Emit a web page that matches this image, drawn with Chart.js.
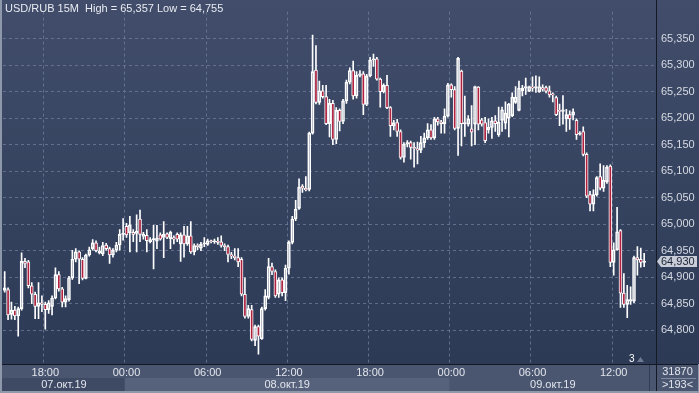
<!DOCTYPE html>
<html><head><meta charset="utf-8">
<script src="https://cdn.jsdelivr.net/npm/chart.js@4.4.1/dist/chart.umd.min.js"></script>
<style>html,body{margin:0;padding:0;background:#2f3c58;overflow:hidden}#wrap{width:699px;height:393px}</style>
</head><body><div id="wrap"><canvas id="c" width="699" height="393"></canvas></div>
<script>
// ---- data (USD/RUB, 15 min bars from 07.10.2019 15:00) ----
const firstBarMinutes = 15 * 60;          // 15:00 on 07 Oct
const slotCount = 193;                    // bars visible in window (>193<)
const dayNames = ['07.окт.19', '08.окт.19', '09.окт.19'];
const timeTickLabels = ['00:00', '06:00', '12:00', '18:00'];
const yTickValues = [64.80, 64.85, 64.90, 64.95, 65.00, 65.05, 65.10, 65.15, 65.20, 65.25, 65.30, 65.35];
const lastPrice = 64.930;
const titleText = 'USD/RUB 15M  High = 65,357 Low = 64,755';
const volumeText = '31870';
const barsText = '>193<';

const opens = [64.875,64.877,64.830,64.838,64.827,64.841,64.930,64.929,64.884,64.868,64.845,64.852,64.849,64.839,64.845,64.861,64.905,64.878,64.853,64.858,
64.899,64.934,64.948,64.934,64.898,64.942,64.954,64.965,64.946,64.944,64.961,64.954,64.942,64.951,64.961,64.981,64.996,64.984,64.985,64.983,
65.010,64.977,64.979,64.967,64.971,64.968,64.980,64.975,64.982,64.973,64.975,64.981,64.963,64.980,64.963,64.978,64.948,64.960,64.955,64.963,
64.962,64.968,64.967,64.968,64.967,64.960,64.958,64.943,64.940,64.937,64.934,64.868,64.826,64.839,64.781,64.807,64.784,64.841,64.862,64.920,
64.911,64.868,64.895,64.871,64.917,64.966,65.010,65.030,65.072,65.068,65.066,65.172,65.291,65.230,65.252,65.241,65.190,65.228,65.160,65.215,
65.194,65.233,65.268,65.290,65.242,65.281,65.284,65.226,65.280,65.310,65.312,65.274,65.250,65.262,65.220,65.186,65.192,65.175,65.126,65.151,
65.154,65.145,65.143,65.140,65.154,65.163,65.178,65.163,65.199,65.193,65.190,65.204,65.263,65.254,65.181,65.289,65.190,65.189,65.180,65.189,
65.259,65.197,65.192,65.178,65.183,65.195,65.169,65.196,65.191,65.200,65.205,65.230,65.215,65.252,65.257,65.251,65.259,65.257,65.250,65.258,
65.258,65.252,65.246,65.239,65.215,65.213,65.199,65.207,65.206,65.196,65.170,65.175,65.132,65.056,65.038,65.056,65.090,65.068,65.080,65.110,
64.928,64.952,64.988,64.870,64.849,64.855,64.855,64.937,64.934,64.928];
const highs = [64.911,64.880,64.853,64.845,64.844,64.946,64.936,64.932,64.890,64.872,64.890,64.865,64.853,64.856,64.865,64.918,64.911,64.881,64.865,64.902,
64.951,64.954,64.950,64.937,64.944,64.957,64.971,64.969,64.957,64.966,64.964,64.957,64.954,64.966,64.990,65.011,65.002,65.015,64.990,65.018,
65.027,64.985,64.990,64.975,64.998,64.998,64.984,65.005,64.984,64.987,64.978,64.984,64.984,64.996,64.996,65.005,64.963,64.963,64.966,64.975,
64.972,64.970,64.972,64.975,64.978,64.963,64.961,64.947,64.954,64.954,64.937,64.899,64.847,64.847,64.810,64.810,64.844,64.877,64.936,64.927,
64.914,64.899,64.899,64.923,64.969,65.015,65.045,65.086,65.075,65.090,65.174,65.357,65.337,65.270,65.262,65.262,65.236,65.234,65.220,65.218,
65.236,65.272,65.295,65.308,65.288,65.290,65.288,65.283,65.315,65.321,65.315,65.276,65.265,65.281,65.222,65.196,65.198,65.178,65.154,65.158,
65.157,65.154,65.155,65.166,65.172,65.190,65.188,65.202,65.202,65.196,65.218,65.266,65.265,65.260,65.315,65.291,65.242,65.205,65.224,65.261,
65.260,65.200,65.202,65.199,65.202,65.205,65.221,65.221,65.231,65.228,65.248,65.260,65.270,65.262,65.276,65.261,65.278,65.280,65.278,65.263,
65.261,65.261,65.248,65.242,65.227,65.243,65.217,65.214,65.218,65.199,65.175,65.184,65.135,65.062,65.065,65.090,65.114,65.111,65.111,65.112,
64.965,65.032,64.990,64.907,64.885,64.882,64.940,64.958,64.955,64.945];
const lows = [64.872,64.820,64.821,64.820,64.789,64.838,64.918,64.880,64.850,64.822,64.822,64.835,64.802,64.832,64.829,64.859,64.874,64.844,64.844,64.855,
64.896,64.929,64.888,64.895,64.897,64.940,64.951,64.948,64.944,64.941,64.951,64.926,64.938,64.948,64.951,64.970,64.975,64.948,64.967,64.948,
64.967,64.972,64.948,64.965,64.916,64.954,64.970,64.937,64.973,64.954,64.963,64.967,64.930,64.938,64.960,64.945,64.942,64.952,64.950,64.958,
64.960,64.965,64.964,64.962,64.957,64.950,64.929,64.935,64.933,64.920,64.865,64.823,64.823,64.780,64.771,64.755,64.783,64.838,64.859,64.905,
64.862,64.862,64.865,64.856,64.906,64.963,65.007,65.028,65.060,65.063,65.063,65.170,65.227,65.226,65.238,65.188,65.165,65.150,65.152,65.176,
65.190,65.228,65.265,65.236,65.238,65.278,65.207,65.224,65.278,65.298,65.272,65.221,65.248,65.218,65.166,65.178,65.166,65.123,65.117,65.146,
65.123,65.108,65.114,65.135,65.145,65.160,65.160,65.160,65.187,65.172,65.172,65.202,65.240,65.178,65.130,65.148,65.166,65.185,65.148,65.150,
65.178,65.185,65.154,65.172,65.162,65.175,65.166,65.175,65.180,65.165,65.203,65.228,65.214,65.242,65.245,65.250,65.251,65.249,65.249,65.251,
65.248,65.240,65.231,65.205,65.186,65.189,65.175,65.179,65.197,65.160,65.168,65.129,65.050,65.025,65.025,65.053,65.065,65.062,65.077,64.920,
64.904,64.951,64.843,64.843,64.824,64.849,64.852,64.904,64.919,64.920];
const closes = [64.880,64.829,64.838,64.827,64.841,64.930,64.926,64.884,64.868,64.845,64.852,64.849,64.839,64.852,64.861,64.905,64.878,64.853,64.860,64.899,
64.934,64.948,64.934,64.898,64.942,64.952,64.965,64.950,64.950,64.960,64.954,64.942,64.951,64.961,64.981,64.983,64.980,64.999,64.981,64.987,
64.981,64.981,64.969,64.971,64.972,64.974,64.972,64.981,64.975,64.985,64.972,64.972,64.980,64.963,64.978,64.948,64.960,64.958,64.962,64.965,
64.969,64.967,64.969,64.966,64.960,64.958,64.943,64.940,64.937,64.929,64.868,64.826,64.841,64.783,64.807,64.789,64.841,64.865,64.920,64.911,
64.865,64.895,64.871,64.917,64.966,65.010,65.028,65.070,65.068,65.065,65.172,65.288,65.230,65.252,65.241,65.190,65.228,65.160,65.215,65.194,
65.233,65.268,65.290,65.242,65.281,65.284,65.226,65.280,65.310,65.312,65.274,65.250,65.262,65.220,65.186,65.192,65.175,65.126,65.151,65.154,
65.145,65.143,65.140,65.154,65.163,65.178,65.163,65.199,65.193,65.190,65.204,65.263,65.254,65.181,65.313,65.190,65.192,65.199,65.174,65.260,
65.189,65.189,65.158,65.183,65.195,65.190,65.193,65.216,65.210,65.227,65.240,65.240,65.257,65.257,65.260,65.260,65.257,65.260,65.260,65.255,
65.251,65.244,65.244,65.207,65.213,65.216,65.207,65.199,65.212,65.169,65.172,65.132,65.053,65.038,65.056,65.088,65.068,65.083,65.108,64.928,
64.952,64.986,64.870,64.849,64.858,64.858,64.937,64.933,64.928,64.930];

// ---- categories: 15-minute slots ----
const categories = [];
const slotDay = [];
for (let i = 0; i < slotCount; i++) {
  const m = firstBarMinutes + i * 15;
  const mm = m % 1440;
  slotDay.push(Math.floor(m / 1440));
  categories.push(String(Math.floor(mm / 60)).padStart(2, '0') + ':' + String(mm % 60).padStart(2, '0'));
}
const isMajor = i => i < slotCount && timeTickLabels.includes(categories[i]);

const bodies = opens.map((o, i) => [o, closes[i]]);
const upperWicks = opens.map((o, i) => [Math.max(o, closes[i]), highs[i]]);
const lowerWicks = opens.map((o, i) => [lows[i], Math.min(o, closes[i])]);
const bodyFill = opens.map((o, i) => closes[i] < o ? '#b0213f' : 'rgba(0,0,0,0)');

const FONT = "'Liberation Sans Narrow','Arial Narrow','Liberation Sans',Arial,sans-serif";
const GRID = 'rgba(112,126,156,0.75)';

const decor = {
  id: 'decor',
  beforeDraw(chart) {
    const c = chart.ctx, W = chart.width, H = chart.height;
    const xa = chart.scales.x, ca = chart.chartArea;
    c.save();
    const g = c.createLinearGradient(0, 0, 0, ca.bottom);
    g.addColorStop(0, '#414d6a');
    g.addColorStop(1, '#2c3a56');
    c.fillStyle = g;
    c.fillRect(0, 0, W, ca.bottom);
    // bottom panel
    c.fillStyle = '#4a5670';
    c.fillRect(0, ca.bottom, W, H - ca.bottom);
    // day bands (lower row)
    const slotW = xa.width / slotCount;
    const edge = i => xa.left + i * slotW;
    const starts = [0];
    for (let i = 1; i < slotCount; i++) if (slotDay[i] !== slotDay[i - 1]) starts.push(i);
    const bandCols = ['#3e4a64', '#56627b', '#4a5670'];
    starts.forEach((s, k) => {
      const x0 = k === 0 ? 0 : edge(s);
      const x1 = k + 1 < starts.length ? edge(starts[k + 1]) : ca.right;
      c.fillStyle = bandCols[k];
      c.fillRect(x0, ca.bottom + 14, x1 - x0, 13);
    });
    c.restore();
  },
  afterDraw(chart) {
    const c = chart.ctx, W = chart.width, H = chart.height;
    const xa = chart.scales.x, ya = chart.scales.y, ca = chart.chartArea;
    c.save();
    // date labels
    const slotW = xa.width / slotCount;
    const edge = i => xa.left + i * slotW;
    const starts = [0];
    for (let i = 1; i < slotCount; i++) if (slotDay[i] !== slotDay[i - 1]) starts.push(i);
    c.font = '11px ' + FONT;
    c.fillStyle = '#e2e5ec';
    c.textAlign = 'center';
    c.textBaseline = 'middle';
    starts.forEach((s, k) => {
      const x0 = edge(s);
      const x1 = k + 1 < starts.length ? edge(starts[k + 1]) : ca.right;
      c.fillText(dayNames[k], (x0 + x1) / 2, ca.bottom + 20.5);
    });
    // frame lines
    c.fillStyle = '#141926';
    c.fillRect(0, ca.bottom, W, 1);
    c.fillRect(ca.right, 0, 1, H);
    c.fillStyle = '#303c55';
    c.fillRect(ca.right - 7, ca.bottom + 1, 1, H - ca.bottom - 2);
    c.fillStyle = '#8e98ab';
    c.fillRect(0, 0, 2, H);
    c.fillRect(0, H - 2, W, 2);
    c.fillRect(W - 1, ca.bottom, 1, H - ca.bottom);
    // title
    c.textAlign = 'left';
    c.textBaseline = 'alphabetic';
    c.fillStyle = '#e8ebf1';
    c.fillText(titleText, 5, 12);
    // last price marker
    const yp = Math.round(ya.getPixelForValue(lastPrice)) + 0.5;
    c.fillStyle = '#c8cdd7';
    c.beginPath();
    c.moveTo(ca.right + 1, yp);
    c.lineTo(ca.right + 5, yp - 5.5);
    c.lineTo(W - 2, yp - 5.5);
    c.lineTo(W - 2, yp + 5.5);
    c.lineTo(ca.right + 5, yp + 5.5);
    c.closePath();
    c.fill();
    c.fillStyle = '#1c2436';
    c.textBaseline = 'middle';
    c.fillText(lastPrice.toFixed(3).replace('.', ','), ca.right + 5, yp + 0.5);
    // bottom-right box
    c.fillStyle = '#e2e5ec';
    c.textAlign = 'center';
    c.fillText(volumeText, (ca.right + W) / 2, ca.bottom + 8);
    c.fillText(barsText, (ca.right + W) / 2, ca.bottom + 21);
    c.fillStyle = '#7f8aa0';
    c.fillRect(ca.right + 5, ca.bottom + 14, W - ca.right - 8, 1);
    // shift marker
    c.fillStyle = '#ffffff';
    c.font = '10px ' + FONT;
    c.textAlign = 'left';
    c.textBaseline = 'alphabetic';
    c.fillText('3', 629, 362);
    c.fillStyle = '#6f7a92';
    c.beginPath();
    c.moveTo(637, 362); c.lineTo(644, 362); c.lineTo(640.5, 357); c.closePath(); c.fill();
    c.restore();
  }
};

new Chart(document.getElementById('c'), {
  type: 'bar',
  data: {
    labels: categories,
    datasets: [
      { data: upperWicks, backgroundColor: '#ffffff', borderWidth: 0, barThickness: 1, grouped: false, order: 2 },
      { data: lowerWicks, backgroundColor: '#ffffff', borderWidth: 0, barThickness: 1, grouped: false, order: 2 },
      { data: bodies, backgroundColor: bodyFill, borderColor: '#ffffff', borderWidth: 1, borderSkipped: false,
        barThickness: 3, grouped: false, order: 1, minBarLength: 1 }
    ]
  },
  options: {
    responsive: false, animation: false, devicePixelRatio: 1,
    layout: { padding: { left: 3, top: 1, right: 0, bottom: 0 } },
    plugins: { legend: { display: false }, tooltip: { enabled: false }, title: { display: false } },
    scales: {
      x: {
        type: 'category', offset: true,
        grid: { offset: true, drawTicks: false, lineWidth: 1, color: ctx => isMajor(ctx.index) ? GRID : 'rgba(0,0,0,0)' },
        border: { display: false, dash: [3, 3] },
        ticks: { autoSkip: false, maxRotation: 0, minRotation: 0, padding: 2, color: '#e2e5ec',
          font: { family: FONT, size: 11 },
          callback: (v, i) => isMajor(i) ? categories[i] : '' },
        afterFit: s => { s.height = 29; }
      },
      y: {
        position: 'right', min: 64.7364, max: 65.4013,
        grid: { drawTicks: false, color: GRID, lineWidth: 1 },
        border: { display: false, dash: [3, 3] },
        afterBuildTicks: s => { s.ticks = yTickValues.map(v => ({ value: v })); },
        ticks: { padding: 5, color: '#d6dae2', font: { family: FONT, size: 11 },
          callback: v => Number(v).toFixed(3).replace('.', ',') },
        afterFit: s => { s.width = 43; }
      }
    }
  },
  plugins: [decor]
});
</script>
</body></html>
